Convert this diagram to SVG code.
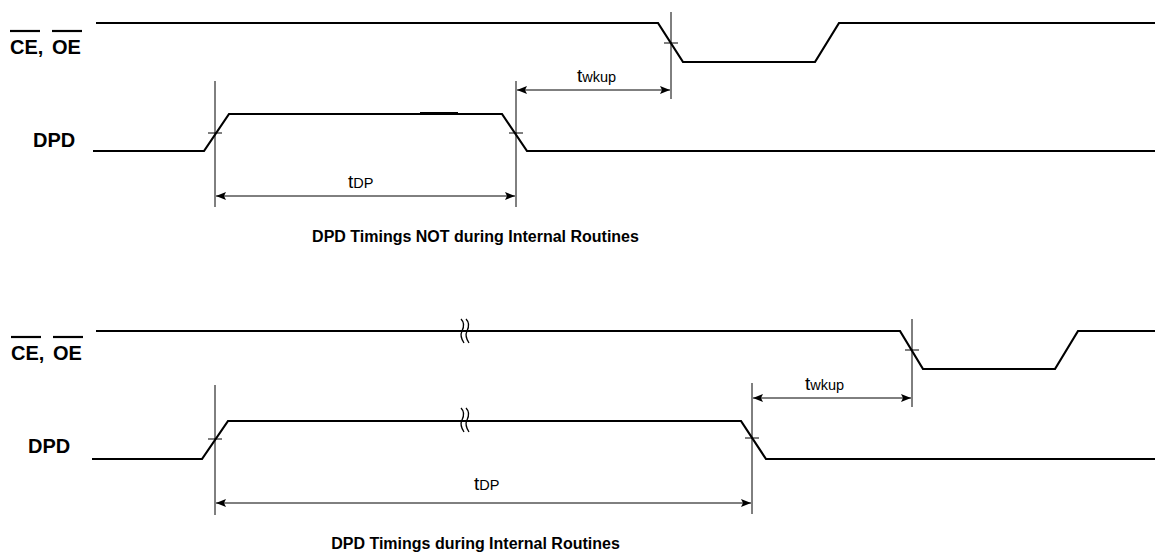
<svg xmlns="http://www.w3.org/2000/svg" width="1155" height="553" viewBox="0 0 1155 553">
<style>
  .sig { fill: none; stroke: #000; stroke-width: 2.2; stroke-linejoin: miter; }
  .dim { fill: none; stroke: #000; stroke-width: 1; }
  .arr { fill: none; stroke: #000; stroke-width: 1; marker-start: url(#ah); marker-end: url(#ah); }
  .brk { fill: none; stroke: #000; stroke-width: 1.3; }
  .lbl { font-family: "Liberation Sans", Arial, sans-serif; font-weight: bold; font-size: 20px; fill: #000; }
  .ttl { font-family: "Liberation Sans", Arial, sans-serif; font-weight: bold; font-size: 16px; fill: #000; text-anchor: middle; }
  .tm { font-family: "Liberation Sans", Arial, sans-serif; font-size: 19px; fill: #000; }
  .sub { font-size: 14.5px; }
</style>
<defs>
  <marker id="ah" viewBox="0 0 10 8" refX="10" refY="4" markerWidth="10" markerHeight="8" orient="auto-start-reverse" markerUnits="userSpaceOnUse">
    <path d="M0,0 L10,4 L0,8 L2,4 z" fill="#000"/>
  </marker>
</defs>
<rect width="1155" height="553" fill="#fff"/>

<!-- ===== Top diagram ===== -->
<g id="top-ce-label">
  <text class="lbl" x="10" y="54">CE,</text>
  <text class="lbl" x="52" y="54">OE</text>
  <line x1="10" y1="31" x2="40" y2="31" stroke="#000" stroke-width="2.2"/>
  <line x1="52" y1="31" x2="82" y2="31" stroke="#000" stroke-width="2.2"/>
</g>
<g id="top-dpd-label">
  <text class="lbl" x="33" y="147">DPD</text>
</g>
<g id="top-ce-signal">
  <path class="sig" d="M96,23 H658 L683,62 H815 L839,23 H1155"/>
</g>
<g id="top-dpd-signal">
  <path class="sig" d="M93,151 H204 L229,114 H502 L527,151 H1155"/>
  <line x1="420" y1="113" x2="458" y2="113" stroke="#000" stroke-width="2.2"/>
</g>
<g id="top-connectors">
  <line class="dim" x1="215" y1="81" x2="215" y2="207"/>
  <line class="dim" x1="516" y1="81" x2="516" y2="207"/>
  <line class="dim" x1="671" y1="12" x2="671" y2="99"/>
  <line class="dim" x1="208" y1="133" x2="222" y2="133"/>
  <line class="dim" x1="509" y1="133" x2="523" y2="133"/>
  <line class="dim" x1="664" y1="43" x2="678" y2="43"/>
  <line class="arr" x1="216" y1="196" x2="515" y2="196"/>
  <line class="arr" x1="517" y1="90" x2="670" y2="90"/>
</g>
<g id="top-tdp-label">
  <text class="tm" x="348" y="188">t<tspan class="sub">DP</tspan></text>
</g>
<g id="top-twkup-label">
  <text class="tm" x="577" y="82">t<tspan class="sub">wkup</tspan></text>
</g>
<g id="top-title">
  <text class="ttl" x="475.5" y="242">DPD Timings NOT during Internal Routines</text>
</g>

<!-- ===== Bottom diagram ===== -->
<g id="bot-ce-label">
  <text class="lbl" x="11" y="360">CE,</text>
  <text class="lbl" x="53" y="360">OE</text>
  <line x1="11" y1="337" x2="41" y2="337" stroke="#000" stroke-width="2.2"/>
  <line x1="53" y1="337" x2="83" y2="337" stroke="#000" stroke-width="2.2"/>
</g>
<g id="bot-dpd-label">
  <text class="lbl" x="28" y="453">DPD</text>
</g>
<g id="bot-ce-signal">
  <path class="sig" d="M96,331 H900 L923,369 H1055 L1078,331 H1155"/>
  <path class="brk" d="M461,319 c4,4 3,8 1,12 c-2,4 0,9 2,12"/>
  <path class="brk" d="M466,319 c4,4 3,8 1,12 c-2,4 0,9 2,12"/>
</g>
<g id="bot-dpd-signal">
  <path class="sig" d="M92,459 H202 L228,421 H741 L766,459 H1155"/>
  <path class="brk" d="M461,408 c4,4 3,8 1,12 c-2,4 0,9 2,12"/>
  <path class="brk" d="M466,408 c4,4 3,8 1,12 c-2,4 0,9 2,12"/>
</g>
<g id="bot-connectors">
  <line class="dim" x1="215" y1="385" x2="215" y2="515"/>
  <line class="dim" x1="752" y1="383" x2="752" y2="514"/>
  <line class="dim" x1="912" y1="319" x2="912" y2="407"/>
  <line class="dim" x1="208" y1="439" x2="222" y2="439"/>
  <line class="dim" x1="745" y1="438" x2="759" y2="438"/>
  <line class="dim" x1="905" y1="350" x2="919" y2="350"/>
  <line class="arr" x1="216" y1="503" x2="751" y2="503"/>
  <line class="arr" x1="753" y1="398" x2="911" y2="398"/>
</g>
<g id="bot-tdp-label">
  <text class="tm" x="474" y="490">t<tspan class="sub">DP</tspan></text>
</g>
<g id="bot-twkup-label">
  <text class="tm" x="805" y="390">t<tspan class="sub">wkup</tspan></text>
</g>
<g id="bot-title">
  <text class="ttl" x="475.5" y="549">DPD Timings during Internal Routines</text>
</g>
</svg>
